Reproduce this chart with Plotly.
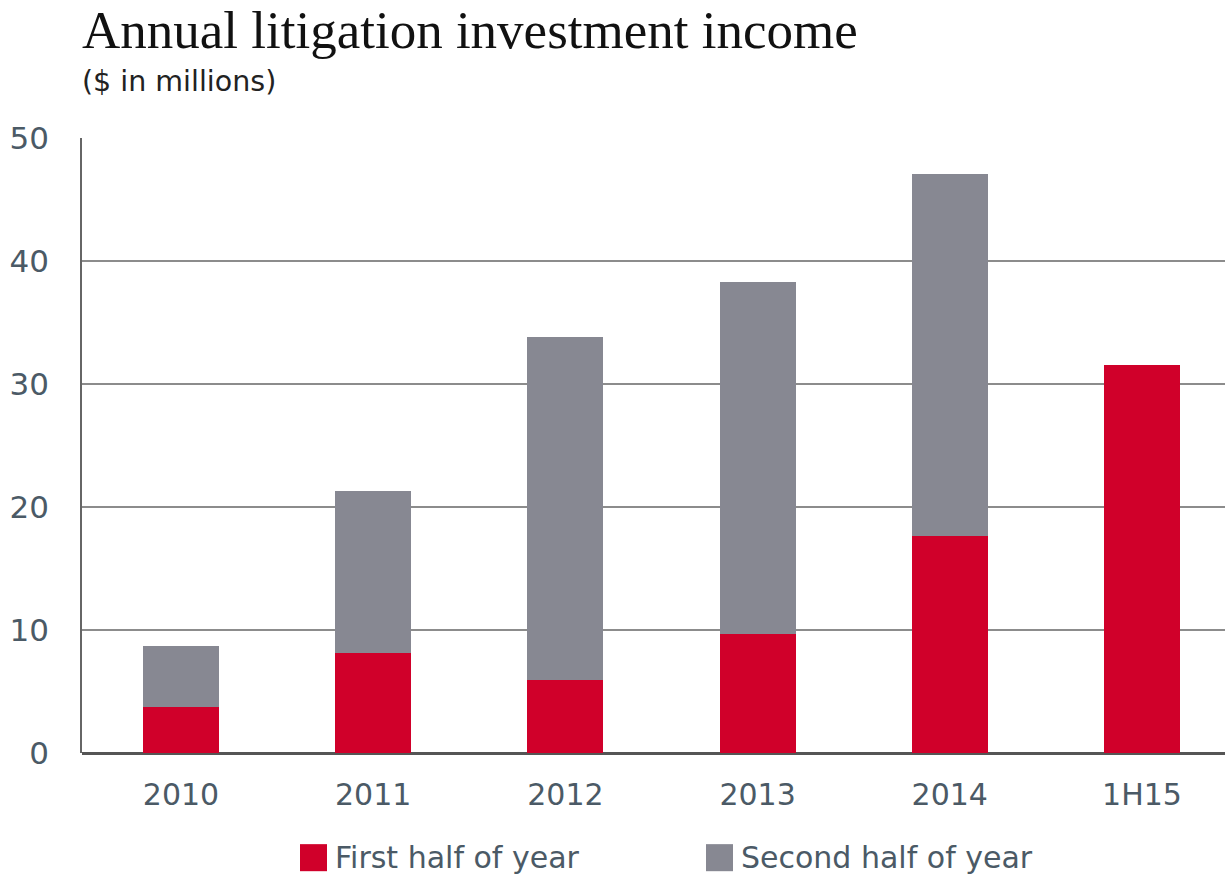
import plotly.graph_objects as go

# Litigation investment income, $ millions
periods = ["2010", "2011", "2012", "2013", "2014", "1H15"]
first_half = [3.75, 8.1, 5.95, 9.65, 17.7, 31.6]
second_half = [4.95, 13.2, 27.9, 28.7, 29.4, 0]

RED = "#D0002A"
GREY = "#878892"
SLATE = "#4B5A66"
SANS = "'DejaVu Sans', 'Open Sans', sans-serif"

fig = go.Figure()
fig.add_trace(go.Bar(x=list(range(len(periods))), y=first_half, name="First half of year",
                     marker=dict(color=RED, line=dict(width=0)), width=0.395))
fig.add_trace(go.Bar(x=list(range(len(periods))), y=second_half, name="Second half of year",
                     marker=dict(color=GREY, line=dict(width=0)), width=0.395))

fig.update_layout(
    width=1225, height=877,
    barmode="stack",
    showlegend=False,
    plot_bgcolor="white", paper_bgcolor="white",
    margin=dict(l=82, r=0, t=138, b=124),
    xaxis=dict(
        range=[-0.515, 5.432],
        tickmode="array", tickvals=list(range(len(periods))), ticktext=periods,
        tickfont=dict(family=SANS, size=30, color=SLATE),
        showgrid=False, zeroline=False, showline=False, ticks="",
        ticklabelstandoff=21,
    ),
    yaxis=dict(
        range=[0, 50.05], tickvals=[0, 10, 20, 30, 40, 50],
        tickfont=dict(family=SANS, size=31, color=SLATE),
        showgrid=True, gridcolor="#8C8C8C", gridwidth=1.5,
        zeroline=True, zerolinecolor="#555555", zerolinewidth=2.5,
        showline=True, linecolor="#666666", linewidth=1.5,
        ticks="", ticklabelstandoff=25,
    ),
)

# Title and subtitle
fig.add_annotation(text="Annual litigation investment income", xref="paper", yref="paper",
                   x=-0.002, y=1.0, xanchor="left", yanchor="bottom", yshift=77,
                   showarrow=False,
                   font=dict(family="'Liberation Serif', 'DejaVu Serif', serif", size=53, color="#111111"))
fig.add_annotation(text="($ in millions)", xref="paper", yref="paper",
                   x=-0.002, y=1.0, xanchor="left", yanchor="bottom", yshift=38,
                   showarrow=False,
                   font=dict(family=SANS, size=28.5, color="#222222"))

# Legend swatches and labels
legend_items = [("First half of year", RED, 300), ("Second half of year", GREY, 706)]
for label, color, px in legend_items:
    fig.add_shape(type="rect", xref="paper", yref="paper",
                  x0=(px - 82) / 1143, x1=(px + 27 - 82) / 1143,
                  y0=-(870 - 752) / 614, y1=-(843 - 752) / 614,
                  fillcolor=color, line=dict(width=0))
    fig.add_annotation(text=label, xref="paper", yref="paper",
                       x=(px + 33 - 82) / 1143, y=-(856 - 752) / 614,
                       xanchor="left", yanchor="middle", showarrow=False,
                       font=dict(family=SANS, size=30, color=SLATE))

fig.write_html("out.html")
